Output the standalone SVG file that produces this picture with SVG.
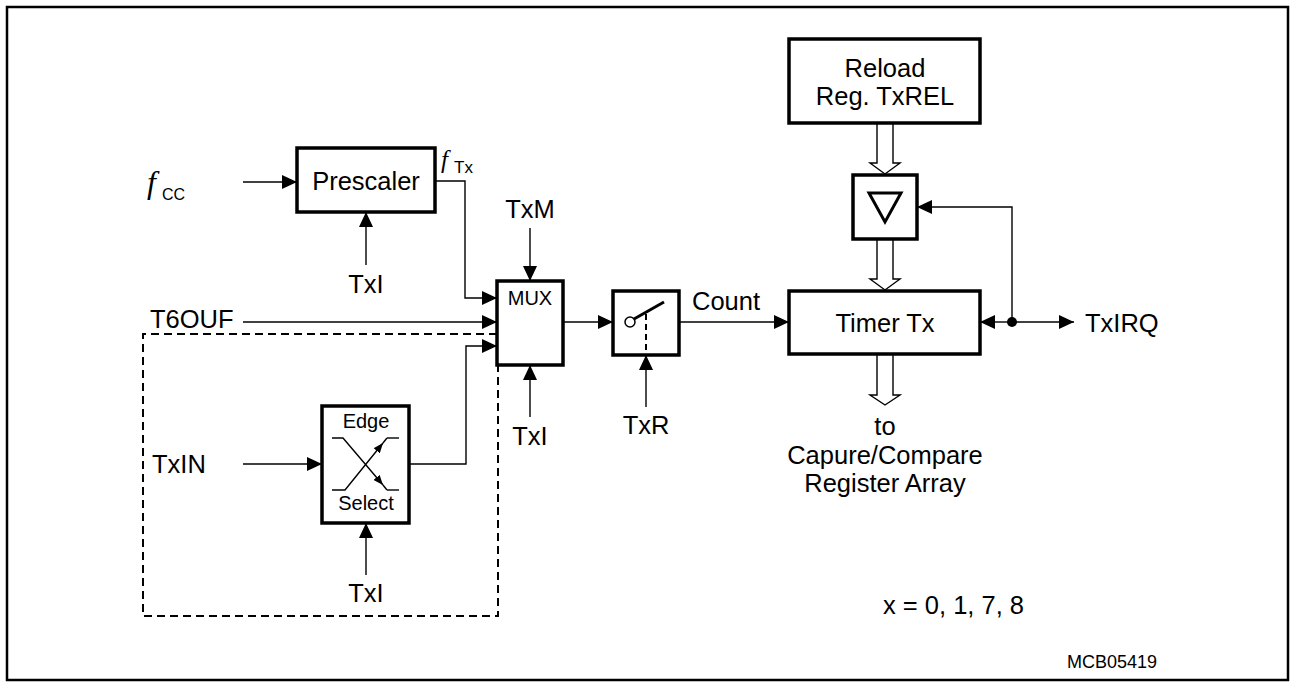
<svg xmlns="http://www.w3.org/2000/svg" width="1297" height="687" viewBox="0 0 1297 687">
<style>
text{font-family:"Liberation Sans",Arial,sans-serif;fill:#000}
.lbl{font-size:25.5px}
.mid{text-anchor:middle}
.sm{font-size:20px}
.box{fill:#fff;stroke:#000;stroke-width:3.5}
.ln{fill:none;stroke:#000;stroke-width:1.4}
.dash{fill:none;stroke:#000;stroke-width:2;stroke-dasharray:8,5}
.hollow{fill:#fff;stroke:#000;stroke-width:1.4}
.it{font-family:"Liberation Serif","Times New Roman",serif;font-style:italic}
</style>
<defs>
<marker id="ah" markerUnits="userSpaceOnUse" markerWidth="16" markerHeight="14" refX="15" refY="7" orient="auto">
<path d="M0,0 L15,7 L0,14 z" fill="#000"/>
</marker>
<marker id="as" markerUnits="userSpaceOnUse" markerWidth="10" markerHeight="8" refX="10" refY="4" orient="auto">
<path d="M0,0 L10,4 L0,8 z" fill="#000"/>
</marker>
</defs>
<rect x="7" y="7" width="1281" height="673" fill="#fff" stroke="#000" stroke-width="2.5"/>

<g id="connectors">
<line class="ln" x1="243" y1="182" x2="297" y2="182" marker-end="url(#ah)"/>
<line class="ln" x1="366" y1="265" x2="366" y2="212" marker-end="url(#ah)"/>
<polyline class="ln" points="435,181 465,181 465,298 497,298" marker-end="url(#ah)"/>
<line class="ln" x1="243" y1="322" x2="497" y2="322" marker-end="url(#ah)"/>
<polyline class="ln" points="409,464 466,464 466,346 497,346" marker-end="url(#ah)"/>
<line class="ln" x1="243" y1="464" x2="322" y2="464" marker-end="url(#ah)"/>
<line class="ln" x1="366" y1="575" x2="366" y2="523" marker-end="url(#ah)"/>
<line class="ln" x1="530" y1="228" x2="530" y2="281" marker-end="url(#ah)"/>
<line class="ln" x1="530" y1="417" x2="530" y2="365" marker-end="url(#ah)"/>
<line class="ln" x1="563" y1="322" x2="613" y2="322" marker-end="url(#ah)"/>
<line class="ln" x1="646" y1="407" x2="646" y2="355" marker-end="url(#ah)"/>
<line class="ln" x1="662" y1="322" x2="789" y2="322" marker-end="url(#ah)"/>
<line class="ln" x1="1012" y1="322" x2="980" y2="322" marker-end="url(#ah)"/>
<line class="ln" x1="1012" y1="322" x2="1074" y2="322" marker-end="url(#ah)"/>
<polyline class="ln" points="1012,322 1012,207 917,207" marker-end="url(#ah)"/>
<circle cx="1012" cy="322" r="5" fill="#000"/>
<path class="hollow" d="M877,123 L877,163 L870,163 L885,174 L900,163 L893,163 L893,123"/>
<path class="hollow" d="M877,239 L877,279 L870,279 L885,290 L900,279 L893,279 L893,239"/>
<path class="hollow" d="M877,354 L877,395 L870,395 L885,405 L900,395 L893,395 L893,354"/>
<polyline class="dash" points="497,334 143,334 143,616 498,616 498,365"/>
</g>

<g id="prescaler">
<rect class="box" x="297" y="148" width="138" height="64"/>
<text class="lbl mid" x="366" y="190">Prescaler</text>
</g>

<g id="mux">
<rect class="box" x="497" y="281" width="66" height="84"/>
<text class="sm mid" x="530" y="305">MUX</text>
</g>

<g id="switch">
<rect class="box" x="613" y="291" width="66" height="64"/>
<line x1="634" y1="319" x2="664" y2="302" stroke="#000" stroke-width="3"/>
<circle cx="630" cy="322" r="5" fill="#fff" stroke="#000" stroke-width="1.5"/>
<line x1="646" y1="314" x2="646" y2="355" stroke="#000" stroke-width="2" stroke-dasharray="6,4"/>
</g>

<g id="edge-select">
<rect class="box" x="322" y="406" width="87" height="117"/>
<text class="sm mid" x="366" y="428">Edge</text>
<text class="sm mid" x="366" y="510">Select</text>
<polyline class="ln" points="332,438 343,438 383,485" marker-end="url(#as)"/>
<line class="ln" x1="383" y1="485" x2="387" y2="490"/>
<line class="ln" x1="387" y1="490" x2="399" y2="490"/>
<polyline class="ln" points="332,490 345,490 383,443" marker-end="url(#as)"/>
<line class="ln" x1="383" y1="443" x2="387" y2="438"/>
<line class="ln" x1="387" y1="438" x2="399" y2="438"/>
</g>

<g id="reload">
<rect class="box" x="789" y="39" width="191" height="84"/>
<text class="lbl mid" x="885" y="77">Reload</text>
<text class="lbl mid" x="885" y="105">Reg. TxREL</text>
</g>

<g id="downcounter">
<rect class="box" x="853" y="175" width="64" height="64"/>
<polygon points="869,193 901,193 885,222" fill="none" stroke="#000" stroke-width="3"/>
</g>

<g id="timer">
<rect class="box" x="789" y="291" width="191" height="63"/>
<text class="lbl mid" x="885" y="332">Timer Tx</text>
</g>

<g id="labels">
<text class="it" x="147" y="193" font-size="32">f</text>
<text x="162" y="200" font-size="16">CC</text>
<text class="it" x="441" y="168" font-size="25">f</text>
<text x="454" y="173" font-size="17">Tx</text>
<text class="lbl mid" x="366" y="293">TxI</text>
<text class="lbl" x="150" y="328">T6OUF</text>
<text class="lbl mid" x="530" y="218">TxM</text>
<text class="lbl mid" x="530" y="445">TxI</text>
<text class="lbl mid" x="646" y="434">TxR</text>
<text class="lbl mid" x="726" y="310">Count</text>
<text class="lbl" x="1085" y="332">TxIRQ</text>
<text class="lbl mid" x="885" y="435">to</text>
<text class="lbl mid" x="885" y="464">Capure/Compare</text>
<text class="lbl mid" x="885" y="492">Register Array</text>
<text class="lbl" x="152" y="473">TxIN</text>
<text class="lbl mid" x="366" y="602">TxI</text>
<text class="lbl" x="883" y="614">x = 0, 1, 7, 8</text>
<text x="1067" y="668" font-size="18">MCB05419</text>
</g>
</svg>
